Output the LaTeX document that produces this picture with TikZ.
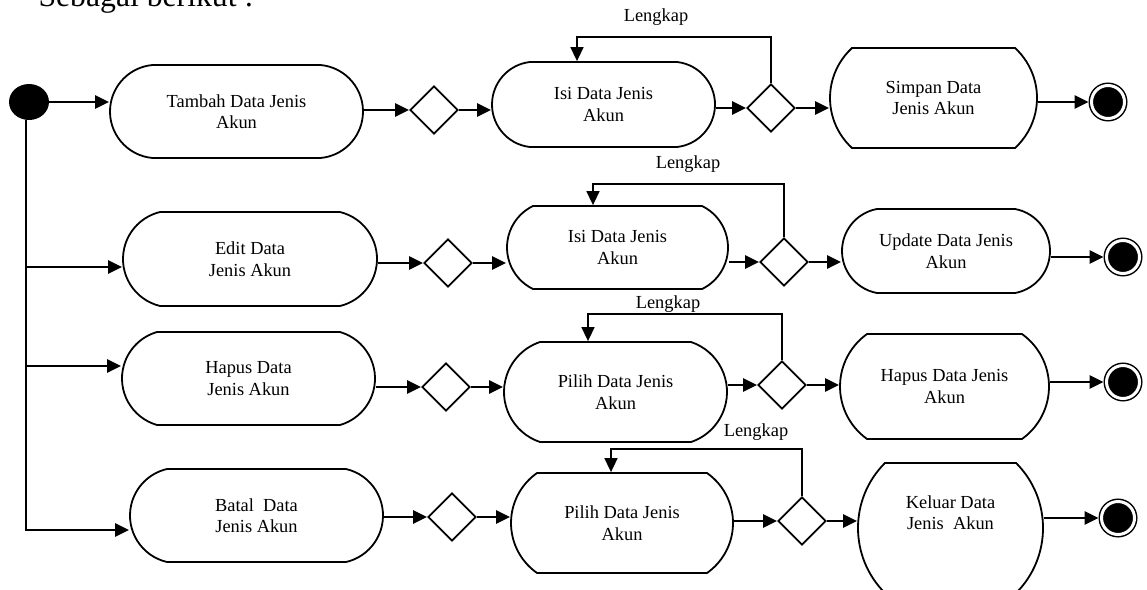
\documentclass[tikz,border=0pt]{standalone}
\usepackage{fontspec}
\setmainfont{Liberation Serif}
\usetikzlibrary{arrows.meta,shapes.geometric,shapes.misc}
\newcommand\teksbox{\fontsize{18.4}{21.5}\selectfont}
\begin{document}
\begin{tikzpicture}[x=1pt,y=-1pt,>={Triangle[length=14pt,width=13pt]},
	aktivitas/.style={rounded rectangle,draw,line width=1.8pt,align=center,font=\teksbox,inner sep=0pt},
	keputusan/.style={diamond,draw,line width=1.8pt,minimum width=48pt,minimum height=48pt,inner sep=0pt},
	alur/.style={->,line width=2.6pt},
	balik/.style={->,line width=1.6pt},
	akhir/.style={circle,draw,fill=black,double=white,double distance=3pt,line width=1.5pt,minimum size=33pt,inner sep=0pt,outer sep=3pt}]
	\useasboundingbox (0,0) rectangle (1147,589);
	\clip (0,0) rectangle (1147,589);
	
	\node[anchor=base west,font=\fontsize{31.7}{38}\selectfont] (judul) at (35,6) {Sebagai berikut :};
	\node[ellipse,fill=black,minimum width=40pt,minimum height=36pt,inner sep=0pt] (mulai) at (29,102) {};
	
	\node[aktivitas,minimum width=253pt,minimum height=93pt,rounded rectangle arc length=170] (aksi1) at (236.5,111.5) {Tambah Data Jenis\\Akun};
	\node[keputusan] (cek1) at (434,110) {};
	\node[aktivitas,minimum width=223pt,minimum height=85pt,rounded rectangle arc length=167] (isi1) at (603.5,104.5) {Isi Data Jenis\\Akun};
	\node[keputusan] (lengkap1) at (771,108) {};
	\node[aktivitas,minimum width=207pt,minimum height=100pt,rounded rectangle arc length=95] (proses1) at (933.5,98) {Simpan Data\\Jenis Akun};
	\node[akhir] (akhir1) at (1108,102) {};
	
	\node[aktivitas,minimum width=254pt,minimum height=94pt,rounded rectangle arc length=153] (aksi2) at (250,259) {Edit Data\\Jenis Akun};
	\node[keputusan] (cek2) at (448,263) {};
	\node[aktivitas,minimum width=221pt,minimum height=83pt,rounded rectangle arc length=128] (isi2) at (617.5,247.5) {Isi Data Jenis\\Akun};
	\node[keputusan] (lengkap2) at (784,262) {};
	\node[aktivitas,minimum width=208pt,minimum height=84pt,rounded rectangle arc length=159] (proses2) at (946,251) {Update Data Jenis\\Akun};
	\node[akhir] (akhir2) at (1123,257) {};
	
	\node[aktivitas,minimum width=253pt,minimum height=93pt,rounded rectangle arc length=148] (aksi3) at (248.5,378.5) {Hapus Data\\Jenis Akun};
	\node[keputusan] (cek3) at (446,387) {};
	\node[aktivitas,minimum width=223pt,minimum height=100pt,rounded rectangle arc length=143] (isi3) at (615.5,392) {Pilih Data Jenis\\Akun};
	\node[keputusan] (lengkap3) at (782,385) {};
	\node[aktivitas,minimum width=209pt,minimum height=105pt,rounded rectangle arc length=109] (proses3) at (944.5,386.5) {Hapus Data Jenis\\Akun};
	\node[akhir] (akhir3) at (1123,382) {};
	
	\node[aktivitas,minimum width=253pt,minimum height=93pt,rounded rectangle arc length=154] (aksi4) at (256.5,515.5) {Batal~ Data\\Jenis Akun};
	\node[keputusan] (cek4) at (452,517) {};
	\node[aktivitas,minimum width=222pt,minimum height=100pt,rounded rectangle arc length=110] (isi4) at (622,523) {Pilih Data Jenis\\Akun};
	\node[keputusan] (lengkap4) at (802,521) {};
	\node[aktivitas,minimum width=185pt,minimum height=130pt,rounded rectangle arc length=90,text height=34pt,text depth=31pt] (proses4) at (950.5,528) {Keluar Data\\Jenis~ Akun};
	\node[akhir] (akhir4) at (1118,518) {};
	
	\coordinate (cabang2) at (26,267);
	\coordinate (cabang3) at (26,366);
	\coordinate (cabang4) at (26,530);
	\draw[alur] (mulai.east) -- (aksi1.west |- mulai.east);
	\draw[alur] (mulai.south -| cabang4) -- (cabang4) -- (aksi4.west |- cabang4);
	\foreach \r in {2,3}
	{
		\draw[alur] (cabang\r) -- (aksi\r.west |- cabang\r);
	}
	
	\foreach \r in {1,2,3,4}
	{
		\draw[alur] (aksi\r.east |- cek\r) -- (cek\r.west);
		\draw[alur] (cek\r.east) -- (isi\r.west |- cek\r);
		\draw[alur] (isi\r.east |- lengkap\r) -- (lengkap\r.west);
		\draw[alur] (lengkap\r.east) -- (proses\r.west |- lengkap\r);
		\draw[alur] (proses\r.east |- akhir\r) -- (akhir\r.west);
	}
	
	\coordinate (putar1) at (577,37);
	\coordinate (putar2) at (593,184);
	\coordinate (putar3) at (588,314);
	\coordinate (putar4) at (611,449);
	\foreach \r in {1,2,3,4}
	{
		\draw[balik] (lengkap\r.north) |- (putar\r) -- (putar\r |- isi\r.north);
	}
	\foreach \r/\x/\y in {1/656/17,2/688/164,3/668/304,4/756/432}
	{
		\node[font=\teksbox] (ket\r) at (\x,\y) {Lengkap};
	}
\end{tikzpicture}
\end{document}
